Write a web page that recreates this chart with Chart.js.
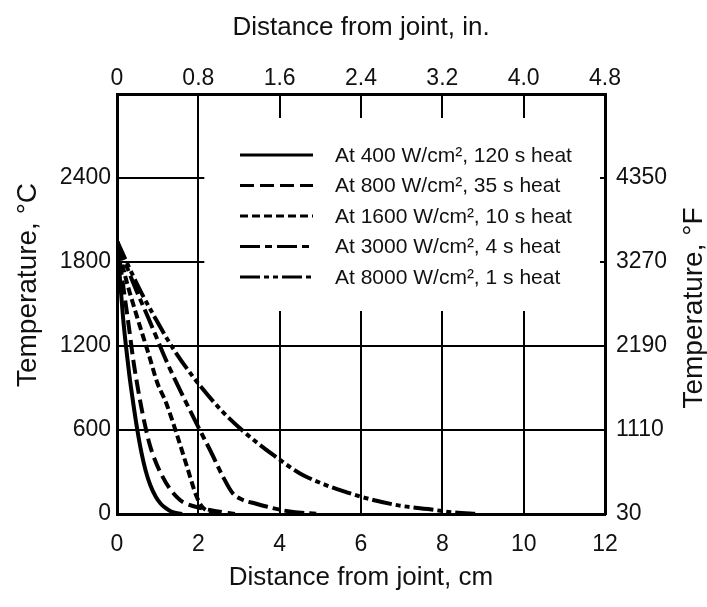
<!DOCTYPE html>
<html>
<head>
<meta charset="utf-8">
<script src="https://cdn.jsdelivr.net/npm/chart.js@4.4.0/dist/chart.umd.min.js"></script>
<style>
html,body{margin:0;padding:0;background:#fff;}
#wrap{width:707px;height:607px;position:relative;}
</style>
</head>
<body>
<div id="wrap"><canvas id="c"></canvas></div>
<script>
// ---- data (distance in cm, temperature in °C) ----
const xTicksIn = ['0', '0.8', '1.6', '2.4', '3.2', '4.0', '4.8'];
const yTicksF = ['30', '1110', '2190', '3270', '4350'];
const seriesLabels = [
  'At 400 W/cm\u00B2, 120 s heat',
  'At 800 W/cm\u00B2, 35 s heat',
  'At 1600 W/cm\u00B2, 10 s heat',
  'At 3000 W/cm\u00B2, 4 s heat',
  'At 8000 W/cm\u00B2, 1 s heat'
];
const dist400 = [0, 0.05, 0.1, 0.15, 0.22, 0.3, 0.4, 0.5, 0.6, 0.7, 0.82, 0.95, 1.07, 1.2, 1.35, 1.6];
const temp400 = [1950, 1760, 1580, 1400, 1200, 1000, 790, 600, 440, 315, 205, 125, 75, 42, 15, 0];
const dist800 = [0, 0.1, 0.2, 0.3, 0.4, 0.5, 0.6, 0.7, 0.8, 0.94, 1.1, 1.3, 1.55, 1.78, 2.02, 2.4, 2.9];
const temp800 = [1950, 1740, 1530, 1320, 1100, 920, 760, 620, 500, 380, 278, 180, 100, 65, 45, 22, 0];
const dist1600 = [0, 0.2, 0.47, 0.78, 1.0, 1.2, 1.47, 1.73, 1.95, 2.1, 2.5];
const temp1600 = [1950, 1700, 1430, 1140, 930, 800, 570, 330, 130, 50, 0];
const dist3000 = [0, 0.4, 0.8, 1.25, 1.66, 2.0, 2.3, 2.6, 2.84, 3.1, 3.4, 3.65, 4.2, 5.0];
const temp3000 = [1950, 1650, 1380, 1070, 820, 620, 450, 270, 150, 100, 75, 55, 20, 0];
const dist8000 = [0, 0.3, 0.6, 0.9, 1.34, 1.95, 2.6, 3.15, 3.85, 4.5, 5.15, 5.65, 6.1, 6.95, 7.65, 8.25, 8.9];
const temp8000 = [1950, 1760, 1580, 1420, 1200, 950, 730, 580, 420, 290, 205, 155, 115, 60, 35, 12, 0];

const FONT = '"Liberation Sans", Arial, Helvetica, sans-serif';
Chart.defaults.font.family = FONT;
Chart.defaults.color = '#111';

const toPts = (xs, ys) => xs.map((x, i) => ({x: x, y: ys[i]}));
const dashes = [[], [14, 6], [8, 4], [20, 5, 7, 5], [20, 4, 5, 4, 5, 4]];
const seriesData = [
  toPts(dist400, temp400), toPts(dist800, temp800), toPts(dist1600, temp1600),
  toPts(dist3000, temp3000), toPts(dist8000, temp8000)
];

const overlay = {
  id: 'overlay',
  beforeDatasetsDraw(chart) {
    const {ctx, chartArea: a, scales} = chart;
    const l = scales.x.getPixelForValue(2) + 6;
    const r = a.right - 5;
    const t = a.top + 24;
    const b = scales.y.getPixelForValue(1450);
    ctx.save();
    ctx.fillStyle = '#fff';
    ctx.fillRect(l, t, r - l, b - t);
    ctx.restore();
  },
  afterDraw(chart) {
    const {ctx, chartArea: a} = chart;
    ctx.save();
    chart.data.datasets.forEach((ds, i) => {
      const yy = a.top + 61 + i * 30.5;
      ctx.beginPath();
      ctx.setLineDash(ds.borderDash || []);
      ctx.lineWidth = 3;
      ctx.strokeStyle = '#000';
      ctx.moveTo(a.left + 123, yy);
      ctx.lineTo(a.left + 196, yy);
      ctx.stroke();
      ctx.setLineDash([]);
      ctx.fillStyle = '#111';
      ctx.font = '21px ' + FONT;
      ctx.textAlign = 'left';
      ctx.textBaseline = 'middle';
      ctx.fillText(ds.label, a.left + 218, yy + 1);
    });
    ctx.font = '28px ' + FONT;
    ctx.fillStyle = '#111';
    ctx.textAlign = 'center';
    ctx.textBaseline = 'middle';
    ctx.save();
    ctx.translate(28, 285);
    ctx.rotate(-Math.PI / 2);
    ctx.fillText('Temperature, \u00B0C', 0, 0);
    ctx.restore();
    ctx.save();
    ctx.translate(694, 308);
    ctx.rotate(-Math.PI / 2);
    ctx.fillText('Temperature, \u00B0F', 0, 0);
    ctx.restore();
    ctx.restore();
  }
};

new Chart(document.getElementById('c'), {
  type: 'line',
  data: {
    datasets: seriesLabels.map((lab, i) => ({
      label: lab,
      data: seriesData[i],
      borderColor: '#000',
      backgroundColor: '#000',
      borderWidth: 4,
      borderDash: dashes[i],
      pointRadius: 0,
      fill: false,
      cubicInterpolationMode: 'monotone',
      xAxisID: 'x',
      yAxisID: 'y'
    }))
  },
  options: {
    responsive: true,
    maintainAspectRatio: false,
    animation: false,
    devicePixelRatio: 1,
    layout: {padding: 0},
    plugins: {legend: {display: false}, tooltip: {enabled: false}},
    scales: {
      x: {
        type: 'linear', position: 'bottom', min: 0, max: 12,
        afterFit: s => { s.height = 93; },
        ticks: {stepSize: 2, padding: 17, font: {size: 23}, color: '#111', maxRotation: 0},
        grid: {color: '#000', lineWidth: 2, drawTicks: false},
        border: {display: true, color: '#000', width: 3},
        title: {display: true, text: 'Distance from joint, cm', font: {size: 26}, color: '#111', padding: {top: 0, bottom: 14}}
      },
      xTop: {
        type: 'linear', position: 'top', min: 0, max: 4.8,
        afterFit: s => { s.height = 94; },
        ticks: {stepSize: 0.8, padding: 2, font: {size: 23}, color: '#111', maxRotation: 0,
          callback: (v, i) => xTicksIn[i]},
        grid: {display: false, drawTicks: false},
        border: {display: true, color: '#000', width: 3},
        title: {display: true, text: 'Distance from joint, in.', font: {size: 26}, color: '#111', padding: {top: 12, bottom: 0}}
      },
      y: {
        type: 'linear', position: 'left', min: 0, max: 3000,
        afterFit: s => { s.width = 117; },
        ticks: {stepSize: 600, padding: 6, font: {size: 23}, color: '#111',
          callback: v => (v >= 3000 ? '' : String(v))},
        grid: {color: '#000', lineWidth: 2, drawTicks: false},
        border: {display: true, color: '#000', width: 3}
      },
      yRight: {
        type: 'linear', position: 'right', min: 0, max: 3000,
        afterFit: s => { s.width = 102; },
        ticks: {stepSize: 600, padding: 11, font: {size: 23}, color: '#111',
          callback: (v, i) => yTicksF[i]},
        grid: {display: false, drawTicks: false},
        border: {display: true, color: '#000', width: 3}
      }
    }
  },
  plugins: [overlay]
});
</script>
</body>
</html>
